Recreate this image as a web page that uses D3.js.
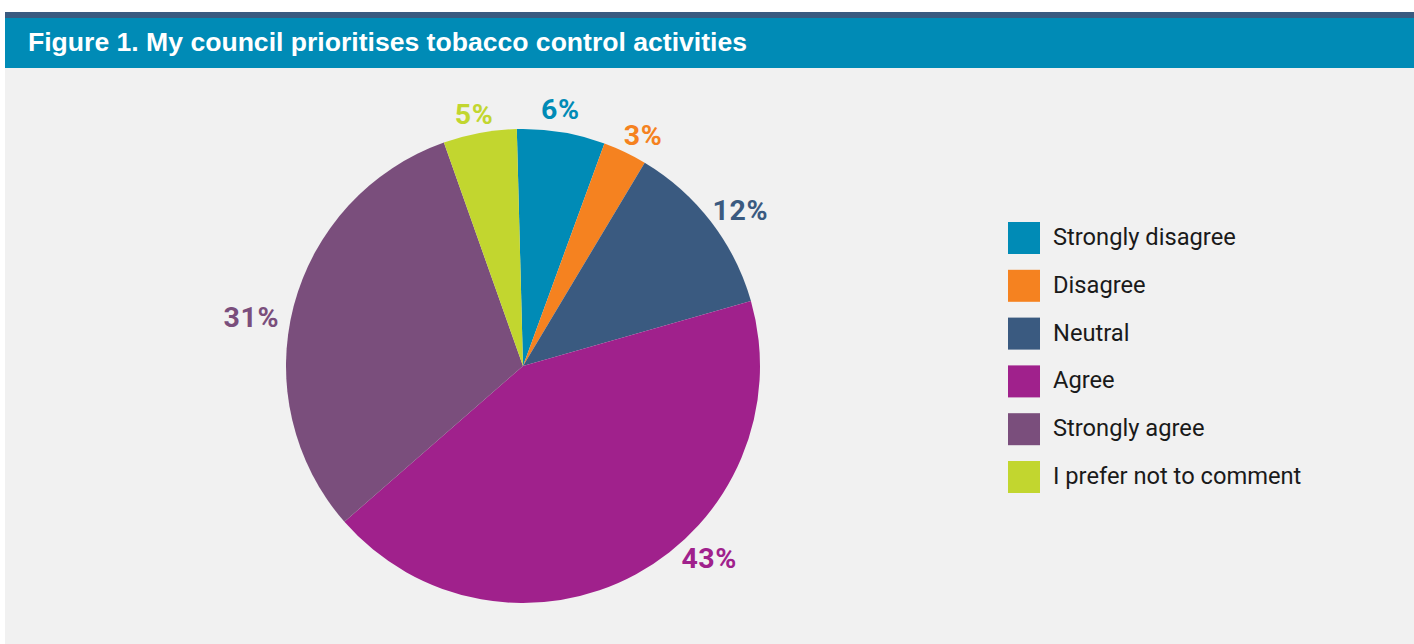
<!DOCTYPE html>
<html>
<head>
<meta charset="utf-8">
<script src="https://cdn.jsdelivr.net/npm/d3@7/dist/d3.min.js"></script>
<style>
  html, body { margin: 0; padding: 0; background: #ffffff; }
  svg { display: block; }
</style>
</head>
<body>
<svg id="chart" width="1414" height="644"></svg>
<script>
// Survey responses: "My council prioritises tobacco control activities"
const categories = ["Strongly disagree", "Disagree", "Neutral", "Agree", "Strongly agree", "I prefer not to comment"];
const percentages = [6, 3, 12, 43, 31, 5];
const colours = ["#008bb6", "#f58220", "#3a5a80", "#a0218c", "#7a4e7c", "#c2d62f"];
const titleText = "Figure 1. My council prioritises tobacco control activities";

const W = 1414, H = 644;
const svg = d3.select("#chart");

// Page frame: grey panel with a banner heading
svg.append("rect").attr("x", 0).attr("y", 0).attr("width", W).attr("height", H).attr("fill", "#ffffff");
svg.append("rect").attr("x", 5).attr("y", 68).attr("width", W - 5).attr("height", H - 68).attr("fill", "#f1f1f1");
svg.append("rect").attr("x", 5).attr("y", 12).attr("width", W - 5).attr("height", 6).attr("fill", "#3a5a80");
svg.append("rect").attr("x", 5).attr("y", 18).attr("width", W - 5).attr("height", 50).attr("fill", "#008bb6");
svg.append("text")
  .attr("x", 28).attr("y", 51)
  .attr("font-family", "'Liberation Sans', Arial, sans-serif")
  .attr("font-weight", "bold")
  .attr("font-size", 25.5)
  .attr("fill", "#ffffff")
  .attr("textLength", 719)
  .attr("lengthAdjust", "spacingAndGlyphs")
  .text(titleText);

// Pie
const cx = 523, cy = 366, R = 237;
const deg = Math.PI / 180;
const startOffset = -1.5 * deg;

const pie = d3.pie()
  .value(d => d)
  .sort(null)
  .startAngle(startOffset)
  .endAngle(startOffset + 2 * Math.PI);

const arcs = pie(percentages);
const arc = d3.arc().innerRadius(0).outerRadius(R);

const g = svg.append("g").attr("transform", `translate(${cx},${cy})`);
g.selectAll("path.slice")
  .data(arcs)
  .join("path")
  .attr("class", "slice")
  .attr("d", arc)
  .attr("fill", (d, i) => colours[i]);

// Percentage labels sit just outside the rim; a few are nudged round the rim
const labelNudge = [-1, 2, 2, -15.5, -4.5, -0.5];   // degrees
const labelRadius = [259, 260, 267, 268, 276, 256];
g.selectAll("text.pct")
  .data(arcs)
  .join("text")
  .attr("class", "pct")
  .each(function (d, i) {
    const a = (d.startAngle + d.endAngle) / 2 + labelNudge[i] * deg;
    const r = labelRadius[i];
    d3.select(this)
      .attr("x", r * Math.sin(a))
      .attr("y", -r * Math.cos(a));
  })
  .attr("text-anchor", "middle")
  .attr("dominant-baseline", "central")
  .attr("font-family", "Roboto, 'Open Sans', sans-serif")
  .attr("font-weight", "bold")
  .attr("font-size", 28.5)
  .attr("letter-spacing", 0.6)
  .attr("fill", (d, i) => colours[i])
  .text(d => d.data + "%");

// Legend
const legendY = d3.scaleBand()
  .domain(categories)
  .range([222, 222 + 47.8 * categories.length])
  .paddingInner(0);

const legend = svg.append("g").attr("transform", "translate(1008,0)");
const rows = legend.selectAll("g.row")
  .data(categories)
  .join("g")
  .attr("class", "row")
  .attr("transform", d => `translate(0,${legendY(d)})`);

rows.append("rect")
  .attr("width", 32).attr("height", 32)
  .attr("fill", (d, i) => colours[i]);

rows.append("text")
  .attr("x", 45).attr("y", 23)
  .attr("font-family", "Roboto, 'Open Sans', sans-serif")
  .attr("font-size", 23.7)
  .attr("fill", "#1a1a1a")
  .text(d => d);
</script>
</body>
</html>
